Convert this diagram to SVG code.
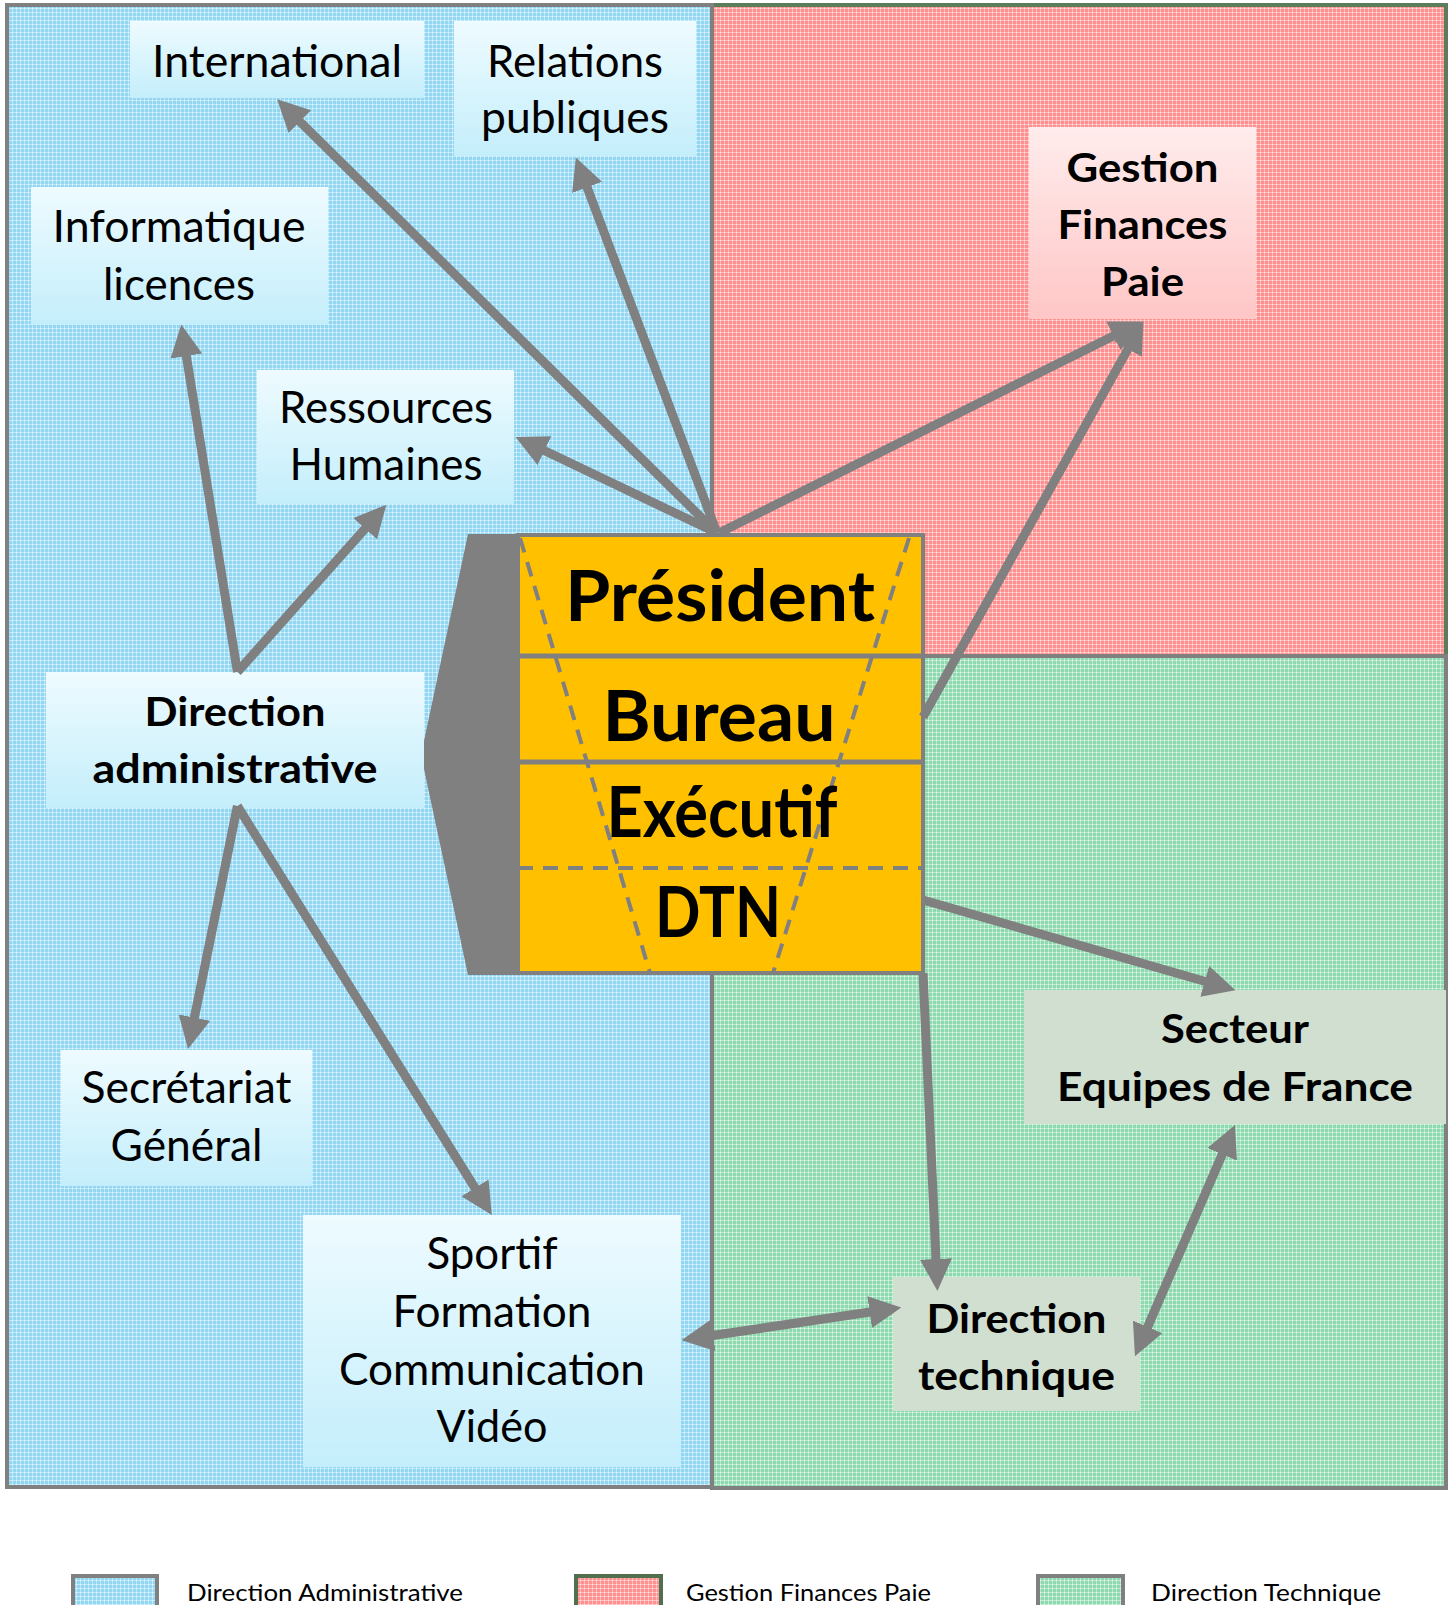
<svg xmlns="http://www.w3.org/2000/svg" width="1456" height="1605" viewBox="0 0 1456 1605">
<style>
.t{font-family:Lato,"Open Sans","Liberation Sans",sans-serif;font-size:44px;fill:#000;text-anchor:middle}
.b{font-weight:700;font-size:41px}
.c{font-family:Lato,"Open Sans","Liberation Sans",sans-serif;font-weight:700;font-size:70px;fill:#000;text-anchor:middle}
.lg{font-family:Lato,"Open Sans","Liberation Sans",sans-serif;font-size:23px;fill:#000}
.arr{stroke:#808080;stroke-width:9;fill:none}
.sep{stroke:#808080;stroke-width:5}
.dash{stroke:#808080;stroke-width:4;stroke-dasharray:15 10;fill:none}
</style>
<defs>
<pattern id="pB" width="4" height="4" patternUnits="userSpaceOnUse"><rect width="4" height="4" fill="#92d6f2"/><rect width="4" height="1" fill="#bfe8f8"/><rect width="1" height="4" fill="#bfe8f8"/><rect width="1" height="1" fill="#e4f6fd"/></pattern>
<pattern id="pR" width="4" height="4" patternUnits="userSpaceOnUse"><rect width="4" height="4" fill="#ff9090"/><rect width="4" height="1" fill="#ffbdbd"/><rect width="1" height="4" fill="#ffbdbd"/><rect width="1" height="1" fill="#ffe2e2"/></pattern>
<pattern id="pG" width="4" height="4" patternUnits="userSpaceOnUse"><rect width="4" height="4" fill="#8dd9b0"/><rect width="4" height="1" fill="#bfead0"/><rect width="1" height="4" fill="#bfead0"/><rect width="1" height="1" fill="#e2f6ea"/></pattern>
<linearGradient id="gB" x1="0" y1="0" x2="0" y2="1"><stop offset="0" stop-color="#eefbff"/><stop offset="1" stop-color="#c4eefb"/></linearGradient>
<linearGradient id="gR" x1="0" y1="0" x2="0" y2="1"><stop offset="0" stop-color="#ffecec"/><stop offset="1" stop-color="#ffc6c6"/></linearGradient>
<marker id="ah" markerUnits="userSpaceOnUse" markerWidth="32" markerHeight="32" viewBox="0 0 30 30" refX="15" refY="15" orient="auto-start-reverse"><path d="M0,0 L30,15 L0,30 Z" fill="#808080"/></marker>
</defs>

<g id="panels">
<rect x="712" y="5" width="734" height="651" fill="url(#pR)" stroke="#5b7d5b" stroke-width="4"/>
<rect x="712" y="656" width="734" height="832" fill="url(#pG)" stroke="#808080" stroke-width="4"/>
<rect x="7" y="5" width="705" height="1482" fill="url(#pB)" stroke="#808080" stroke-width="4"/>
</g>

<g id="node-bureau-executif">
<polygon points="468,534 518,534 518,975 468,975 421,755" fill="#808080"/>
<rect x="518" y="535" width="405" height="438" fill="#ffc000" stroke="#808080" stroke-width="4"/>
<line class="sep" x1="518" y1="656" x2="923" y2="656"/>
<line class="sep" x1="518" y1="762" x2="923" y2="762"/>
<line class="dash" x1="518" y1="868" x2="923" y2="868"/>
<line class="dash" x1="520" y1="538" x2="650" y2="973"/>
<line class="dash" x1="909" y1="538" x2="773" y2="973"/>
<text class="c" x="720" y="620.5" textLength="310" lengthAdjust="spacingAndGlyphs">Président</text>
<text class="c" x="719" y="741" textLength="233" lengthAdjust="spacingAndGlyphs">Bureau</text>
<text class="c" x="722" y="837" textLength="231" lengthAdjust="spacingAndGlyphs">Exécutif</text>
<text class="c" x="718" y="937" textLength="126" lengthAdjust="spacingAndGlyphs">DTN</text>
</g>

<g id="node-international">
<rect x="130" y="21" width="294" height="77" fill="url(#gB)"/>
<text class="t" x="277" y="76.5" textLength="250" lengthAdjust="spacingAndGlyphs">International</text>
</g>
<g id="node-relations">
<rect x="454" y="21" width="242" height="135" fill="url(#gB)"/>
<text class="t" x="575" y="77" textLength="176" lengthAdjust="spacingAndGlyphs">Relations</text>
<text class="t" x="575" y="133" textLength="188" lengthAdjust="spacingAndGlyphs">publiques</text>
</g>
<g id="node-informatique">
<rect x="31" y="187" width="297" height="138" fill="url(#gB)"/>
<text class="t" x="179" y="242" textLength="253" lengthAdjust="spacingAndGlyphs">Informatique</text>
<text class="t" x="179" y="299.5" textLength="152" lengthAdjust="spacingAndGlyphs">licences</text>
</g>
<g id="node-rh">
<rect x="257" y="370" width="257" height="134" fill="url(#gB)"/>
<text class="t" x="386" y="423" textLength="214" lengthAdjust="spacingAndGlyphs">Ressources</text>
<text class="t" x="386" y="480" textLength="193" lengthAdjust="spacingAndGlyphs">Humaines</text>
</g>
<g id="node-dir-admin">
<rect x="46" y="672" width="378" height="136" fill="url(#gB)"/>
<text class="t b" x="235" y="725.5" textLength="181" lengthAdjust="spacingAndGlyphs">Direction</text>
<text class="t b" x="235" y="783" textLength="285" lengthAdjust="spacingAndGlyphs">administrative</text>
</g>
<g id="node-secretariat">
<rect x="61" y="1050" width="251" height="136" fill="url(#gB)"/>
<text class="t" x="186.5" y="1103" textLength="210" lengthAdjust="spacingAndGlyphs">Secrétariat</text>
<text class="t" x="186.5" y="1160.5" textLength="152" lengthAdjust="spacingAndGlyphs">Général</text>
</g>
<g id="node-sportif">
<rect x="303" y="1215" width="378" height="252" fill="url(#gB)"/>
<text class="t" x="492" y="1269" textLength="131" lengthAdjust="spacingAndGlyphs">Sportif</text>
<text class="t" x="492" y="1327" textLength="199" lengthAdjust="spacingAndGlyphs">Formation</text>
<text class="t" x="492" y="1385" textLength="306" lengthAdjust="spacingAndGlyphs">Communication</text>
<text class="t" x="492" y="1442" textLength="111" lengthAdjust="spacingAndGlyphs">Vidéo</text>
</g>
<g id="node-gestion">
<rect x="1029" y="127" width="227" height="192" fill="url(#gR)"/>
<text class="t b" x="1142.5" y="181.5" textLength="152" lengthAdjust="spacingAndGlyphs">Gestion</text>
<text class="t b" x="1142.5" y="238.5" textLength="170" lengthAdjust="spacingAndGlyphs">Finances</text>
<text class="t b" x="1142.5" y="296" textLength="83" lengthAdjust="spacingAndGlyphs">Paie</text>
</g>
<g id="node-secteur">
<rect x="1024" y="990" width="422" height="134" fill="#d1dfd1"/>
<text class="t b" x="1235" y="1043" textLength="148" lengthAdjust="spacingAndGlyphs">Secteur</text>
<text class="t b" x="1235" y="1101" textLength="356" lengthAdjust="spacingAndGlyphs">Equipes de France</text>
</g>
<g id="node-dir-tech">
<rect x="893" y="1277" width="247" height="134" fill="#d1dfd1"/>
<text class="t b" x="1016.5" y="1332.5" textLength="180" lengthAdjust="spacingAndGlyphs">Direction</text>
<text class="t b" x="1016.5" y="1390" textLength="197" lengthAdjust="spacingAndGlyphs">technique</text>
</g>

<g id="connectors">
<line class="arr" x1="717" y1="533" x2="288.5" y2="110.4" marker-end="url(#ah)"/>
<line class="arr" x1="717" y1="533" x2="581.5" y2="172.4" marker-end="url(#ah)"/>
<line class="arr" x1="717" y1="533" x2="530" y2="443.8" marker-end="url(#ah)"/>
<line class="arr" x1="719" y1="533" x2="1127.8" y2="328.7" marker-end="url(#ah)"/>
<line class="arr" x1="923" y1="717" x2="1135.7" y2="335.1" marker-end="url(#ah)"/>
<line class="arr" x1="237.4" y1="672" x2="183.8" y2="340.2" marker-end="url(#ah)"/>
<line class="arr" x1="237.4" y1="672" x2="375.7" y2="516.7" marker-end="url(#ah)"/>
<line class="arr" x1="237.4" y1="806" x2="191.2" y2="1033.3" marker-end="url(#ah)"/>
<line class="arr" x1="237.4" y1="806" x2="483.4" y2="1201.5" marker-end="url(#ah)"/>
<line class="arr" x1="923" y1="900" x2="1220.1" y2="985.8" marker-end="url(#ah)"/>
<line class="arr" x1="923" y1="973" x2="936.7" y2="1275" marker-end="url(#ah)"/>
<line class="arr" x1="697.3" y1="1337.8" x2="885.5" y2="1309.8" marker-start="url(#ah)" marker-end="url(#ah)"/>
<line class="arr" x1="1141.3" y1="1341.6" x2="1228.6" y2="1139.6" marker-start="url(#ah)" marker-end="url(#ah)"/>
</g>

<g id="legend">
<rect x="73" y="1576" width="84" height="40" fill="url(#pB)" stroke="#808080" stroke-width="4"/>
<text class="lg" x="187" y="1601" textLength="276" lengthAdjust="spacingAndGlyphs">Direction Administrative</text>
<rect x="576" y="1576" width="85" height="40" fill="url(#pR)" stroke="#4f6f4f" stroke-width="4"/>
<text class="lg" x="686" y="1601" textLength="245" lengthAdjust="spacingAndGlyphs">Gestion Finances Paie</text>
<rect x="1038" y="1576" width="85" height="40" fill="url(#pG)" stroke="#808080" stroke-width="4"/>
<text class="lg" x="1151" y="1601" textLength="230" lengthAdjust="spacingAndGlyphs">Direction Technique</text>
</g>
</svg>
